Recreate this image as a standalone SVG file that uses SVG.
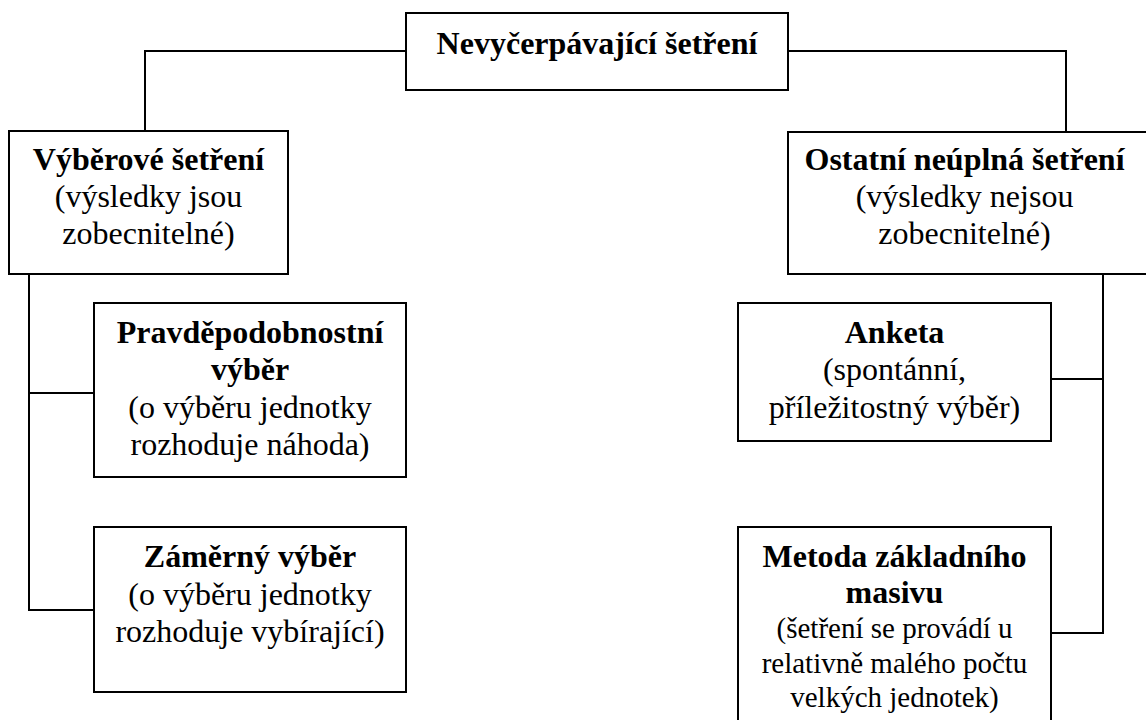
<svg xmlns="http://www.w3.org/2000/svg" width="1146" height="720" viewBox="0 0 1146 720">
  <style>
    .box { fill: #ffffff; stroke: #000000; stroke-width: 2; }
    .link { fill: none; stroke: #000000; stroke-width: 2; }
    text { font-family: "Liberation Serif", "Times New Roman", serif; fill: #000000; text-anchor: middle; }
    .b { font-size: 32px; font-weight: bold; }
    .r { font-size: 32px; }
    .s { font-size: 29px; }
  </style>
  <rect x="0" y="0" width="1146" height="720" fill="#ffffff"/>

  <!-- connectors -->
  <g id="connectors">
    <polyline class="link" points="406,51 145,51 145,131"/>
    <polyline class="link" points="788,51 1066,51 1066,132"/>
    <polyline class="link" points="29,274 29,610 94,610"/>
    <line class="link" x1="29" y1="393" x2="94" y2="393"/>
    <polyline class="link" points="1103,274 1103,633 1050,633"/>
    <line class="link" x1="1103" y1="379" x2="1050" y2="379"/>
    <rect x="1048" y="377.5" width="3" height="3" fill="#000000"/>
    <rect x="1048" y="631.5" width="3" height="3" fill="#000000"/>
  </g>

  <!-- root -->
  <g id="root">
    <rect class="box" x="406" y="13" width="382" height="77"/>
    <text class="b" x="597" y="54">Nevyčerpávající šetření</text>
  </g>

  <!-- sample survey -->
  <g id="vyberove">
    <rect class="box" x="9" y="131" width="279" height="143"/>
    <text class="b" x="148.5" y="170">Výběrové šetření</text>
    <text class="r" x="148.5" y="207">(výsledky jsou</text>
    <text class="r" x="148.5" y="244">zobecnitelné)</text>
  </g>

  <!-- other partial surveys -->
  <g id="ostatni">
    <rect class="box" x="788" y="132" width="362" height="142"/>
    <text class="b" x="964.5" y="170">Ostatní neúplná šetření</text>
    <text class="r" x="964.5" y="207">(výsledky nejsou</text>
    <text class="r" x="964.5" y="244">zobecnitelné)</text>
  </g>

  <g id="pravdepodobnostni">
    <rect class="box" x="94" y="303" width="312" height="174"/>
    <text class="b" x="250" y="343">Pravděpodobnostní</text>
    <text class="b" x="250" y="380">výběr</text>
    <text class="r" x="250" y="417.5">(o výběru jednotky</text>
    <text class="r" x="250" y="455">rozhoduje náhoda)</text>
  </g>

  <g id="zamerny">
    <rect class="box" x="94" y="527" width="312" height="165"/>
    <text class="b" x="250" y="567">Záměrný výběr</text>
    <text class="r" x="250" y="604.5">(o výběru jednotky</text>
    <text class="r" x="250" y="641.5">rozhoduje vybírající)</text>
  </g>

  <g id="anketa">
    <rect class="box" x="738" y="303" width="313" height="138"/>
    <text class="b" x="894.5" y="343">Anketa</text>
    <text class="r" x="894.5" y="380">(spontánní,</text>
    <text class="r" x="894.5" y="417.5">příležitostný výběr)</text>
  </g>

  <g id="metoda">
    <rect class="box" x="738" y="527" width="313" height="200"/>
    <text class="b" x="894.5" y="567">Metoda základního</text>
    <text class="b" x="894.5" y="603">masivu</text>
    <text class="s" x="894.5" y="638">(šetření se provádí u</text>
    <text class="s" x="894.5" y="672.5">relativně malého počtu</text>
    <text class="s" x="894.5" y="707">velkých jednotek)</text>
  </g>
</svg>
